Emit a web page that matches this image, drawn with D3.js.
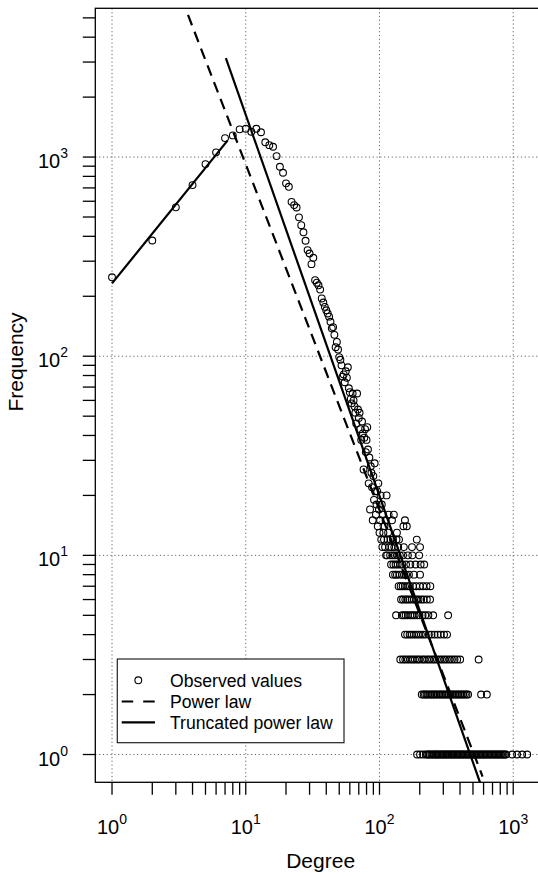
<!DOCTYPE html>
<html>
<head>
<meta charset="utf-8">
<script src="https://cdn.jsdelivr.net/npm/d3@7"></script>
<style>
  body { margin: 0; background: #fff; }
  svg { display: block; font-family: 'Liberation Sans', Arial, Helvetica, sans-serif; }
</style>
</head>
<body>
<svg id="chart" width="538" height="876"></svg>
<script>
// observed frequency for degree 1..112 (index = degree - 1)
const lowDegreeFreq = [
  249, 381, 559, 723, 922, 1056, 1245, 1285, 1378, 1387,
  1340, 1387, 1332, 1186, 1148, 1127, 1011, 894, 834, 738,
  709, 596, 574, 558, 498, 455, 419, 380, 341, 328,
  290, 312, 241, 234, 227, 216, 195, 186, 177, 170,
  164, 158, 149, 138, 140, 128, 111, 118, 108, 99,
  96, 90, 79, 81, 74, 84, 78, 88, 69, 66,
  61, 58, 65, 60, 56, 52, 46, 65, 54, 49,
  52, 43, 38, 47, 41, 27, 39, 43, 33, 38,
  44, 34, 23, 31, 17, 28, 26, 22, 15, 25,
  19, 29, 21, 16, 18, 21, 14, 23, 17, 13,
  15, 20, 12, 18, 11, 16, 13, 12, 14, 11,
  15, 10
]

// higher degrees, grouped by their (small) frequency
const bandFreqs = [20, 16, 15, 14, 13, 12, 11, 10, 9, 8, 7, 6, 5, 4, 3, 2, 1]
const bandDegrees = [
  [113],
  [117, 128],
  [124, 155],
  [151, 160],
  [116, 135],
  [115, 121, 126, 134, 140, 190],
  [118, 123, 129, 138, 152, 175, 201],
  [114, 120, 125, 130, 136, 142, 150, 163, 176, 198],
  [122, 127, 132, 137, 143, 148, 158, 170, 186, 203, 216],
  [126, 131, 135, 141, 147, 153, 158, 166, 181, 201],
  [139, 144, 149, 155, 162, 168, 178, 188, 200, 212, 225, 240],
  [145, 150, 156, 161, 167, 174, 181, 189, 196, 205, 214, 226, 239],
  [133, 147, 152, 157, 163, 170, 176, 183, 191, 199, 210, 220, 232, 252, 326],
  [155, 161, 168, 174, 181, 188, 196, 204, 212, 221, 234, 245, 258, 272, 287, 304, 320],
  [143, 150, 156, 163, 170, 177, 184, 192, 199, 209, 217, 227, 236, 247, 257, 269, 281, 293, 306, 319, 334, 348, 364, 381, 401, 551],
  [207, 214, 219, 225, 231, 239, 245, 252, 259, 265, 273, 281, 288, 296, 305, 313, 321, 331, 340, 349, 358, 369, 379, 389, 401, 411, 423, 435, 447, 460, 575, 635],
  [191, 201, 212, 222, 228, 233, 238, 244, 249, 255, 262, 266, 271, 278, 284, 290, 297, 303, 310, 316, 322, 329, 337, 344, 351, 359, 366, 374, 383, 391, 399, 408, 417, 426, 436, 446, 455, 466, 476, 487, 498, 509, 520, 532, 544, 556, 568, 581, 594, 607, 621, 635, 649, 664, 679, 694, 710, 726, 742, 759, 776, 793, 811, 829, 848, 867, 885, 982, 1069, 1167, 1271]
]

// fitted lines (degree, frequency) end points
const powerLaw = [[3.7, 5170], [590, 0.775]]
const truncLow = [[1, 232], [7.3, 1210]]
const truncHigh = [[7.1, 3140], [566, 0.72]]

const decades = [1, 10, 100, 1000]
const minorSteps = [2, 3, 4, 5, 6, 7, 8, 9]
const legendLabels = ['Observed values', 'Power law', 'Truncated power law']

const width = 538
const height = 876
const plot = { left: 95.3, top: 8.3, right: 546, bottom: 782.3 }
const tickLen = 12.5
const pointR = 3.4

const svg = d3.select('#chart')
svg.append('rect').attr('width', width).attr('height', height).attr('fill', '#fff')

const x = d3.scaleLog()
  .domain([Math.pow(10, -0.125), Math.pow(10, 3.245)])
  .range([plot.left, plot.right])
const y = d3.scaleLog()
  .domain([Math.pow(10, -0.1395), Math.pow(10, 3.747)])
  .range([plot.bottom, plot.top])

svg.append('defs').append('clipPath').attr('id', 'clip')
  .append('rect')
  .attr('x', plot.left).attr('y', plot.top)
  .attr('width', plot.right - plot.left).attr('height', plot.bottom - plot.top)

const g = svg.append('g').attr('clip-path', 'url(#clip)')

// grid
g.selectAll('.vgrid')
  .data(decades)
  .enter()
  .append('line')
  .attr('x1', d => x(d)).attr('x2', d => x(d))
  .attr('y1', plot.top).attr('y2', plot.bottom)
  .attr('stroke', '#666').attr('stroke-width', 1)
  .attr('stroke-dasharray', '1.2,2.6')
g.selectAll('.hgrid')
  .data(decades)
  .enter()
  .append('line')
  .attr('y1', d => y(d)).attr('y2', d => y(d))
  .attr('x1', plot.left).attr('x2', plot.right)
  .attr('stroke', '#666').attr('stroke-width', 1)
  .attr('stroke-dasharray', '1.2,2.6')

// observed points
const points = lowDegreeFreq.map((f, i) => [i + 1, f])
bandFreqs.forEach((f, i) => bandDegrees[i].forEach(k => points.push([k, f])))

g.selectAll('.pt')
  .data(points)
  .enter()
  .append('circle')
  .attr('cx', d => x(d[0]))
  .attr('cy', d => y(d[1]))
  .attr('r', pointR)
  .attr('fill', 'none')
  .attr('stroke', '#000')
  .attr('stroke-width', 1.1)

// fitted lines
const line = d3.line().x(d => x(d[0])).y(d => y(d[1]))
g.append('path').attr('d', line(powerLaw))
  .attr('fill', 'none').attr('stroke', '#000').attr('stroke-width', 2.2)
  .attr('stroke-dasharray', '11,7')
g.append('path').attr('d', line(truncLow))
  .attr('fill', 'none').attr('stroke', '#000').attr('stroke-width', 2.2)
g.append('path').attr('d', line(truncHigh))
  .attr('fill', 'none').attr('stroke', '#000').attr('stroke-width', 2.2)

// legend
const lg = svg.append('g')
lg.append('rect')
  .attr('x', 117.3).attr('y', 659)
  .attr('width', 226.7).attr('height', 83.7)
  .attr('fill', '#fff').attr('stroke', '#222').attr('stroke-width', 1.2)
const rowY = [680.3, 701.5, 722.3]
lg.append('circle').attr('cx', 138.3).attr('cy', rowY[0]).attr('r', pointR)
  .attr('fill', 'none').attr('stroke', '#000').attr('stroke-width', 1.1)
lg.append('line').attr('x1', 121.7).attr('x2', 155).attr('y1', rowY[1]).attr('y2', rowY[1])
  .attr('stroke', '#000').attr('stroke-width', 2.2).attr('stroke-dasharray', '11.5,10')
lg.append('line').attr('x1', 121.7).attr('x2', 155).attr('y1', rowY[2]).attr('y2', rowY[2])
  .attr('stroke', '#000').attr('stroke-width', 2.2)
lg.selectAll('.lt')
  .data(legendLabels)
  .enter()
  .append('text')
  .attr('x', 170)
  .attr('y', (d, i) => rowY[i] + 6.2)
  .attr('font-size', 17.6)
  .attr('fill', '#000')
  .text(d => d)

// box
svg.append('rect')
  .attr('x', plot.left).attr('y', plot.top)
  .attr('width', plot.right - plot.left).attr('height', plot.bottom - plot.top)
  .attr('fill', 'none').attr('stroke', '#000').attr('stroke-width', 1.3)

// ticks
const tickVals = []
decades.forEach(d => {
  tickVals.push(d)
  minorSteps.forEach(m => tickVals.push(d * m))
})
const xTicks = tickVals.filter(v => x(v) <= width)
const yTicks = tickVals.filter(v => y(v) >= plot.top)

svg.selectAll('.xt')
  .data(xTicks)
  .enter()
  .append('line')
  .attr('x1', d => x(d)).attr('x2', d => x(d))
  .attr('y1', plot.bottom).attr('y2', plot.bottom + tickLen)
  .attr('stroke', '#000').attr('stroke-width', 1.3)
svg.selectAll('.yt')
  .data(yTicks)
  .enter()
  .append('line')
  .attr('y1', d => y(d)).attr('y2', d => y(d))
  .attr('x1', plot.left).attr('x2', plot.left - tickLen)
  .attr('stroke', '#000').attr('stroke-width', 1.3)

// tick labels 10^k
decades.forEach((d, i) => {
  const tx = svg.append('text')
    .attr('x', x(d)).attr('y', 834)
    .attr('text-anchor', 'middle')
    .attr('font-size', 20).attr('fill', '#000')
  tx.append('tspan').text('10')
  tx.append('tspan').attr('dy', -10).attr('font-size', 14).text(String(i))

  const ty = svg.append('text')
    .attr('x', 68).attr('y', y(d) + 11)
    .attr('text-anchor', 'end')
    .attr('font-size', 20).attr('fill', '#000')
  ty.append('tspan').text('10')
  ty.append('tspan').attr('dy', -10).attr('font-size', 14).text(String(i))
})

// axis titles
svg.append('text')
  .attr('x', (plot.left + plot.right) / 2).attr('y', 868)
  .attr('text-anchor', 'middle')
  .attr('font-size', 21).attr('fill', '#000')
  .text('Degree')
svg.append('text')
  .attr('transform', 'translate(23,362) rotate(-90)')
  .attr('text-anchor', 'middle')
  .attr('font-size', 21).attr('fill', '#000')
  .text('Frequency')
</script>
</body>
</html>
